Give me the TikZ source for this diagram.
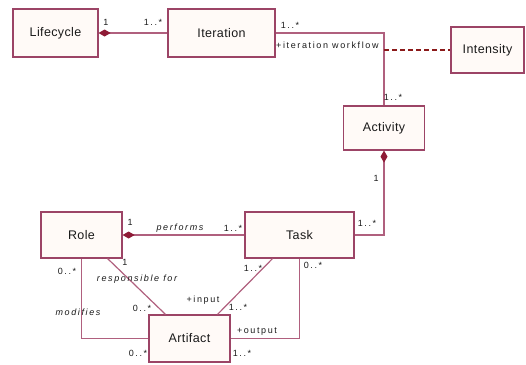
\documentclass[tikz,border=0pt]{standalone}
\usepackage{fontspec}
\setmainfont{Liberation Sans}
\newfontfamily\boxfont[LetterSpace=3]{Liberation Sans}
\newfontfamily\labfont[LetterSpace=18]{Liberation Sans}
\usetikzlibrary{arrows.meta}
\definecolor{umlborder}{HTML}{9C4466}
\definecolor{umlfill}{HTML}{FFFAF7}
\definecolor{umlline}{HTML}{B0607E}
\definecolor{umldiam}{HTML}{8E1B36}
\definecolor{umldash}{HTML}{8B1A1A}
\definecolor{umltext}{HTML}{1A1A1A}
\tikzset{
  cls/.style={draw=umlborder, fill=umlfill, line width=1.2pt, inner sep=0pt,
    text=umltext, font=\boxfont\fontsize{12.5}{14}\selectfont},
  assoc/.style={draw=umlline, line width=1.2pt},
  comp/.style={assoc, {Diamond[length=12pt,width=7pt,color=umldiam,fill=umldiam]}-},
  lab/.style={inner sep=0pt, text=umltext, font=\labfont\fontsize{9}{10}\selectfont},
  ilab/.style={lab, font=\labfont\itshape\fontsize{9}{10}\selectfont}
}
\begin{document}
\begin{tikzpicture}[x=1pt,y=-1pt]
			\useasboundingbox (0,0) rectangle (526,364);
			% Classes
			\node[cls, minimum width=85pt, minimum height=48pt] (life) at (55.5,33) {Lifecycle};
			\node[cls, minimum width=107pt, minimum height=48pt] (iter) at (221.5,33) {Iteration};
			\node[cls, minimum width=73pt, minimum height=46pt] (inten) at (487.5,50) {Intensity};
			\node[cls, minimum width=81pt, minimum height=44pt] (act) at (384,128) {Activity};
			\node[cls, minimum width=81pt, minimum height=46pt] (role) at (81.5,235) {Role};
			\node[cls, minimum width=109pt, minimum height=46pt] (task) at (299.5,235) {Task};
			\node[cls, minimum width=81pt, minimum height=47pt] (art) at (189.5,338.5) {Artifact};
			
			% Associations
			\draw[comp] (life.east) -- (iter.west);
			\draw[assoc] (iter.east) -| (act.north);
			\coordinate (wf) at (act.north |- inten.west);
			\draw[umldash, line width=1.6pt, dash pattern=on 5pt off 3pt] (wf) -- (inten.west);
			\draw[comp] (act.south) |- (task.east);
			\draw[comp] (role.east) -- (task.west);
			\draw[assoc] ([xshift=-15pt]role.south east) -- ([xshift=-24pt]art.north);
			\draw[assoc] (role.south) |- (art.west);
			\draw[assoc] ([xshift=-27pt]task.south) -- ([xshift=28pt]art.north);
			\draw[assoc] (task.south) |- (art.east);
			
			% Labels
			\node[lab] (m1) at (106,22) {1};
			\node[lab] (m2) at (153,22) {1..*};
			\node[lab] (m3) at (290,25) {1..*};
			\node[lab, anchor=west] (wflab) at (276,45) {+iteration workflow};
			\node[lab] (m4) at (393,97) {1..*};
			\node[lab] (m5) at (376,178) {1};
			\node[lab] (m6) at (367,223) {1..*};
			\node[lab] (m7) at (130,222) {1};
			\node[ilab] (perf) at (180,228) {performs};
			\node[lab] (m8) at (233,228) {1..*};
			\node[lab] (m9) at (125,262) {1};
			\node[ilab] (resp) at (137,279) {responsible for};
			\node[lab] (m10) at (67,271) {0..*};
			\node[ilab] (modi) at (78,312) {modifies};
			\node[lab] (m11) at (142,308) {0..*};
			\node[lab] (inp) at (203,300) {+input};
			\node[lab] (m12) at (238,307) {1..*};
			\node[lab] (m13) at (138,353) {0..*};
			\node[lab] (m14) at (253,268) {1..*};
			\node[lab] (m15) at (313,265) {0..*};
			\node[lab] (outp) at (257,332) {+output};
			\node[lab] (m16) at (242,353) {1..*};
		\end{tikzpicture}
\end{document}
